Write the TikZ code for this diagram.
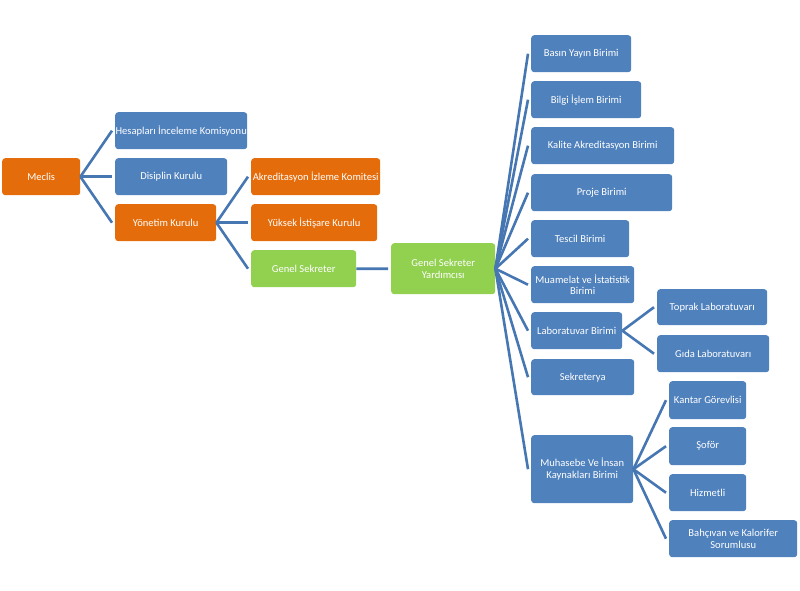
\documentclass[tikz,border=0pt]{standalone}
\usepackage{fontspec}
\setmainfont{Carlito}
\definecolor{cblue}{HTML}{4F81BD}
\definecolor{corange}{HTML}{E46C0A}
\definecolor{cgreen}{HTML}{92D050}
\definecolor{cline}{HTML}{4677B2}
\begin{document}
\begin{tikzpicture}[x=1bp,y=-1bp,
  bx/.style={rounded corners=3bp, text=white, font=\fontsize{10.6}{12}\selectfont, inner sep=0pt, align=center, anchor=north west},
  bl/.style={bx, fill=cblue},
  og/.style={bx, fill=corange},
  gr/.style={bx, fill=cgreen},
  conn/.style={draw=cline, line width=2.6bp}]
\useasboundingbox (0,0) rectangle (800,591);
% level 0/1
\node[og, minimum width=78bp, minimum height=37bp] (meclis) at (2,158) {Meclis};
\node[bl, minimum width=132bp, minimum height=37bp] (hesap) at (115,112) {Hesapları İnceleme Komisyonu};
\node[bl, minimum width=112bp, minimum height=37bp] (disiplin) at (115,158) {Disiplin Kurulu};
\node[og, minimum width=101bp, minimum height=37bp] (yonetim) at (115,204) {Yönetim Kurulu};
% level 2
\node[og, minimum width=129bp, minimum height=37bp] (akred) at (251,158) {Akreditasyon İzleme Komitesi};
\node[og, minimum width=126bp, minimum height=37bp] (yuksek) at (251,204) {Yüksek İstişare Kurulu};
\node[gr, minimum width=105bp, minimum height=37bp] (gensek) at (251,250) {Genel Sekreter};
\node[gr, minimum width=104bp, minimum height=51bp] (gsy) at (391,243) {Genel Sekreter\\Yardımcısı};
% units
\node[bl, minimum width=100bp, minimum height=37bp] (basin) at (531,35) {Basın Yayın Birimi};
\node[bl, minimum width=110bp, minimum height=37bp] (bilgi) at (531,81) {Bilgi İşlem Birimi};
\node[bl, minimum width=143bp, minimum height=37bp] (kalite) at (531,127) {Kalite Akreditasyon Birimi};
\node[bl, minimum width=141bp, minimum height=37bp] (proje) at (531,174) {Proje Birimi};
\node[bl, minimum width=98bp, minimum height=37bp] (tescil) at (531,220) {Tescil Birimi};
\node[bl, minimum width=103bp, minimum height=37bp] (muamelat) at (531,266) {Muamelat ve İstatistik\\Birimi};
\node[bl, minimum width=91bp, minimum height=37bp] (lab) at (531,312) {Laboratuvar Birimi};
\node[bl, minimum width=103bp, minimum height=36bp] (sekr) at (531,359) {Sekreterya};
\node[bl, minimum width=102bp, minimum height=68bp] (muhas) at (531,435) {Muhasebe Ve İnsan\\Kaynakları Birimi};
% lab children
\node[bl, minimum width=110bp, minimum height=36bp] (toprak) at (657,289) {Toprak Laboratuvarı};
\node[bl, minimum width=112bp, minimum height=37bp] (gida) at (657,335) {Gıda Laboratuvarı};
% muhasebe children
\node[bl, minimum width=77bp, minimum height=38bp] (kantar) at (669,381) {Kantar Görevlisi};
\node[bl, minimum width=77bp, minimum height=38bp] (sofor) at (669,427) {Şoför};
\node[bl, minimum width=77bp, minimum height=37bp] (hizmet) at (669,474) {Hizmetli};
\node[bl, minimum width=128bp, minimum height=37bp] (bahce) at (669,520) {Bahçıvan ve Kalorifer\\Sorumlusu};
% connectors
\foreach \c in {hesap,disiplin,yonetim}
  \draw[conn] (meclis.east) -- ([xshift=-3bp]\c.west);
\foreach \c in {akred,yuksek,gensek}
  \draw[conn] (yonetim.east) -- ([xshift=-3bp]\c.west);
\draw[conn] (gensek.east) -- ([xshift=-3bp]gsy.west);
\foreach \c in {basin,bilgi,kalite,proje,tescil,muamelat,lab,sekr,muhas}
  \draw[conn] (gsy.east) -- ([xshift=-3bp]\c.west);
\foreach \c in {toprak,gida}
  \draw[conn] (lab.east) -- ([xshift=-3bp]\c.west);
\foreach \c in {kantar,sofor,hizmet,bahce}
  \draw[conn] (muhas.east) -- ([xshift=-3bp]\c.west);
\end{tikzpicture}
\end{document}
